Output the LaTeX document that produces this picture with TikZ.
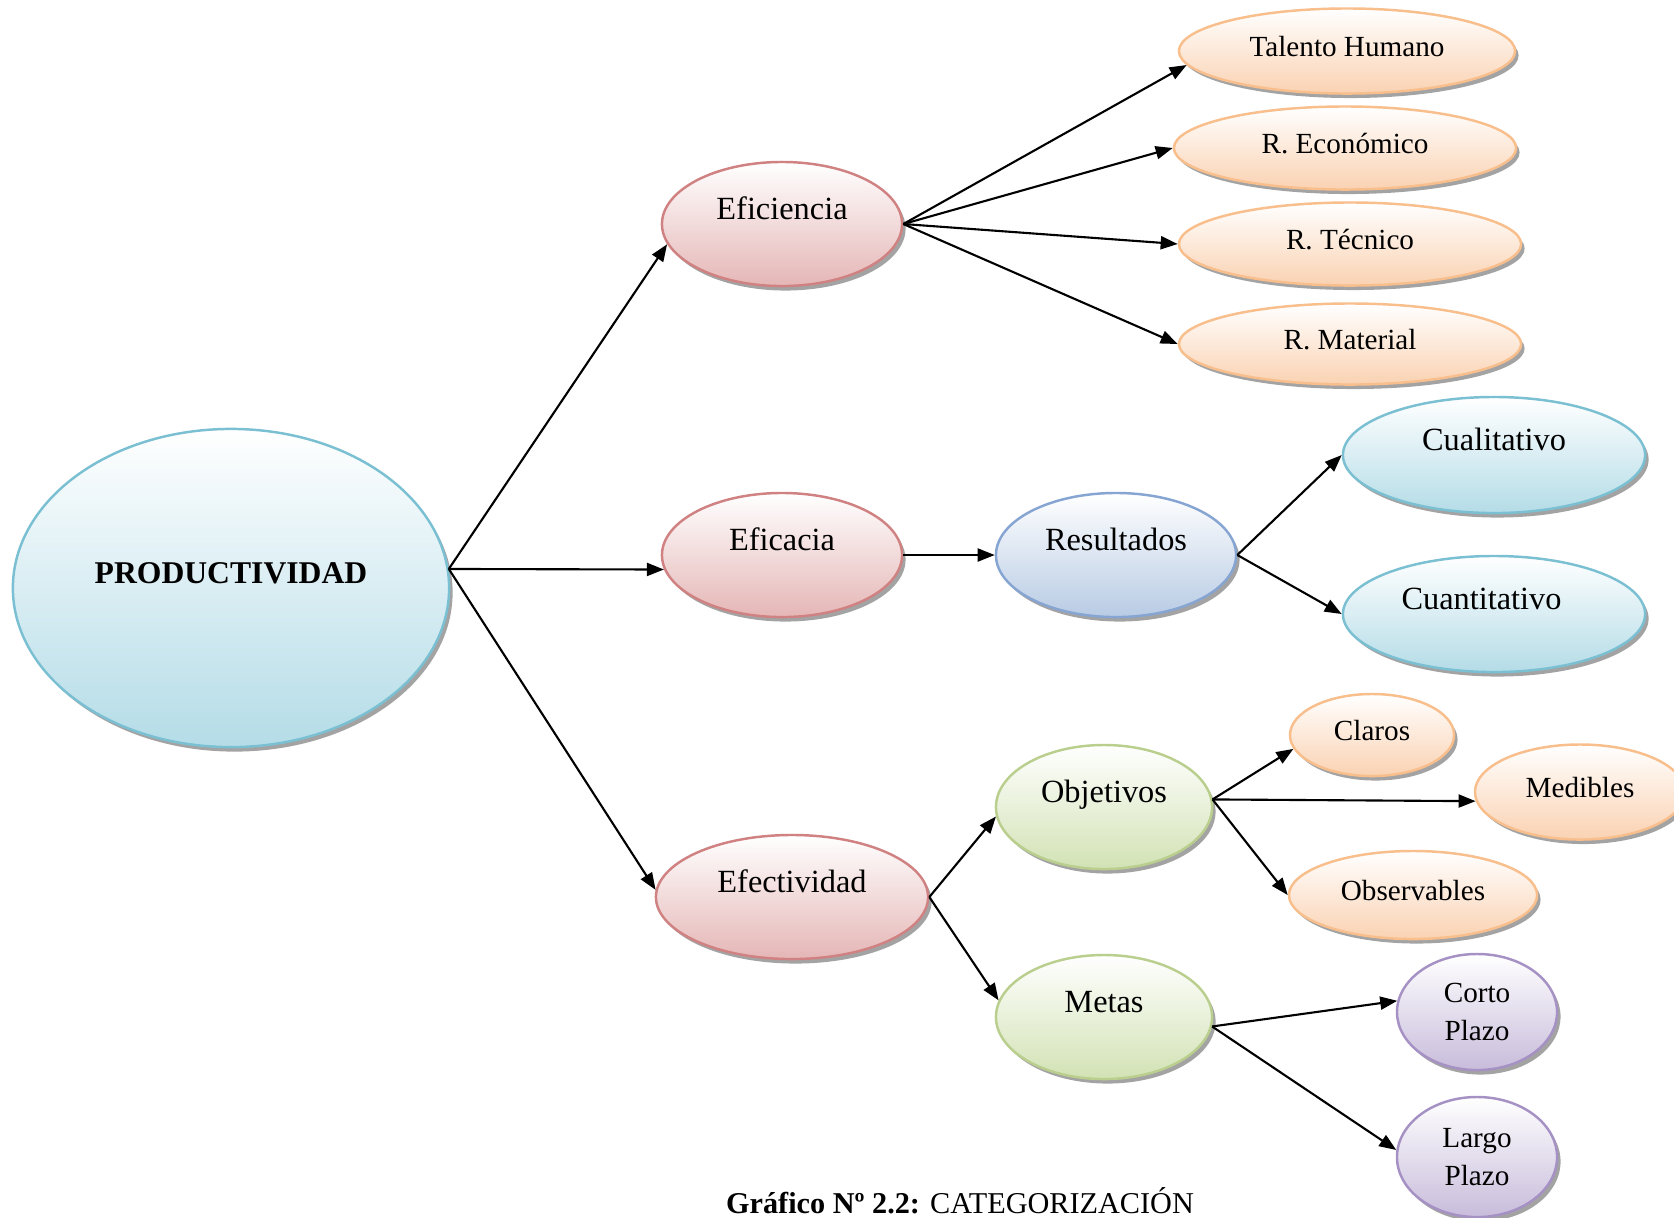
\documentclass[tikz,border=0pt]{standalone}
\usepackage{fontspec}
\setmainfont{Liberation Serif}
\usepackage{xcolor}
\usetikzlibrary{shapes.geometric,arrows.meta,shadows}

\definecolor{blueline}{RGB}{122,192,210}
\definecolor{bluefill}{RGB}{180,220,231}
\definecolor{redline}{RGB}{208,130,130}
\definecolor{redfill}{RGB}{229,182,182}
\definecolor{resline}{RGB}{135,165,210}
\definecolor{resfill}{RGB}{184,203,228}
\definecolor{greenline}{RGB}{186,207,142}
\definecolor{greenfill}{RGB}{210,226,180}
\definecolor{orangeline}{RGB}{248,190,140}
\definecolor{orangefill}{RGB}{250,210,178}
\definecolor{purpleline}{RGB}{165,145,196}
\definecolor{purplefill}{RGB}{200,188,219}

\tikzset{
  oval/.style 2 args={ellipse, draw=#1, top color=white, bottom color=#2,
    line width=0.7pt, inner sep=1pt,
    drop shadow={shadow xshift=0.35mm, shadow yshift=-0.45mm, fill=black!60, opacity=0.6}},
  toptext/.style={text height=1.6ex, text depth=2.1ex},
  midtext/.style={text height=1.6ex, text depth=0.9ex},
  bigfont/.style={font=\fontsize{9.2}{11}\selectfont},
  smallfont/.style={font=\fontsize{8.3}{10}\selectfont},
  link/.style={-{Triangle[length=1.7mm,width=1.3mm]}, line width=0.6pt}
}

\begin{document}
\begin{tikzpicture}[x=0.01cm, y=-0.01cm]
\useasboundingbox (0,0) rectangle (1674,1217);

% raiz
\node[oval={blueline}{bluefill}, toptext, minimum width=4.36cm, minimum height=3.18cm,
      font=\fontsize{9}{11}\selectfont\bfseries] (prod) at (231,588) {PRODUCTIVIDAD};

% primer nivel
\node[oval={redline}{redfill}, toptext, bigfont, minimum width=2.4cm, minimum height=1.24cm] (efi) at (782,224) {Eficiencia};
\node[oval={redline}{redfill}, toptext, bigfont, minimum width=2.4cm, minimum height=1.24cm] (efc) at (782,555) {Eficacia};
\node[oval={redline}{redfill}, toptext, bigfont, minimum width=2.72cm, minimum height=1.24cm] (efe) at (792,897) {Efectividad};

% eficiencia
\node[oval={orangeline}{orangefill}, midtext, smallfont, minimum width=3.36cm, minimum height=0.85cm] (tal) at (1347,51) {Talento Humano};
\node[oval={orangeline}{orangefill}, midtext, smallfont, minimum width=3.42cm, minimum height=0.83cm] (eco) at (1345,148) {R. Económico};
\node[oval={orangeline}{orangefill}, midtext, smallfont, minimum width=3.42cm, minimum height=0.83cm] (tec) at (1350,244) {R. Técnico};
\node[oval={orangeline}{orangefill}, midtext, smallfont, minimum width=3.42cm, minimum height=0.81cm] (mat) at (1350,344) {R. Material};

% eficacia
\node[oval={resline}{resfill}, toptext, bigfont, minimum width=2.4cm, minimum height=1.24cm] (res) at (1116,555) {Resultados};
\node[oval={blueline}{bluefill}, toptext, bigfont, minimum width=3.02cm, minimum height=1.16cm] (cual) at (1494,455) {Cualitativo};
\node[oval={blueline}{bluefill}, toptext, bigfont, minimum width=3.02cm, minimum height=1.16cm] (cuan) at (1494,614) {\hspace*{-0.25cm}Cuantitativo};

% efectividad
\node[oval={greenline}{greenfill}, toptext, bigfont, minimum width=2.16cm, minimum height=1.24cm] (obj) at (1104,807) {Objetivos};
\node[oval={greenline}{greenfill}, toptext, bigfont, minimum width=2.16cm, minimum height=1.24cm] (met) at (1104,1017) {Metas};
\node[oval={orangeline}{orangefill}, midtext, smallfont, minimum width=1.64cm, minimum height=0.82cm] (cla) at (1372,735) {Claros};
\node[oval={orangeline}{orangefill}, midtext, smallfont, minimum width=2.1cm, minimum height=0.95cm] (med) at (1580,792) {Medibles};
\node[oval={orangeline}{orangefill}, midtext, smallfont, minimum width=2.48cm, minimum height=0.88cm] (obs) at (1413,895) {Observables};
\node[oval={purpleline}{purplefill}, smallfont, align=center, minimum width=1.6cm, minimum height=1.16cm] (cor) at (1477,1012) {Corto\\[1pt]Plazo};
\node[oval={purpleline}{purplefill}, smallfont, align=center, minimum width=1.6cm, minimum height=1.2cm] (lar) at (1477,1157) {Largo\\[1pt]Plazo};

% flechas
\draw[link] (prod.5) -- (efi.190);
\draw[link] (prod.5) -- (efc.187);
\draw[link] (prod.5) -- (efe.177);

\draw[link] (efi.east) -- (tal.185);
\draw[link] (efi.east) -- (eco.west);
\draw[link] (efi.east) -- (tec.west);
\draw[link] (efi.east) -- (mat.west);

\draw[link] (efc.east) -- (res.west);
\draw[link] (res.east) -- (cual.west);
\draw[link] (res.east) -- (cuan.west);

\draw[link] (efe.east) -- (obj.185);
\draw[link] (efe.east) -- (met.171);
\draw[link] (obj.4) -- (cla.190);
\draw[link] (obj.4) -- (med.185);
\draw[link] (obj.4) -- (obs.west);
\draw[link] (met.355) -- (cor.172);
\draw[link] (met.355) -- (lar.175);

% pie
\node[anchor=base, font=\fontsize{8.6}{10}\selectfont] (cap) at (960,1213)
  {\textbf{Gráfico Nº 2.2:} CATEGORIZACIÓN};
\end{tikzpicture}
\end{document}
